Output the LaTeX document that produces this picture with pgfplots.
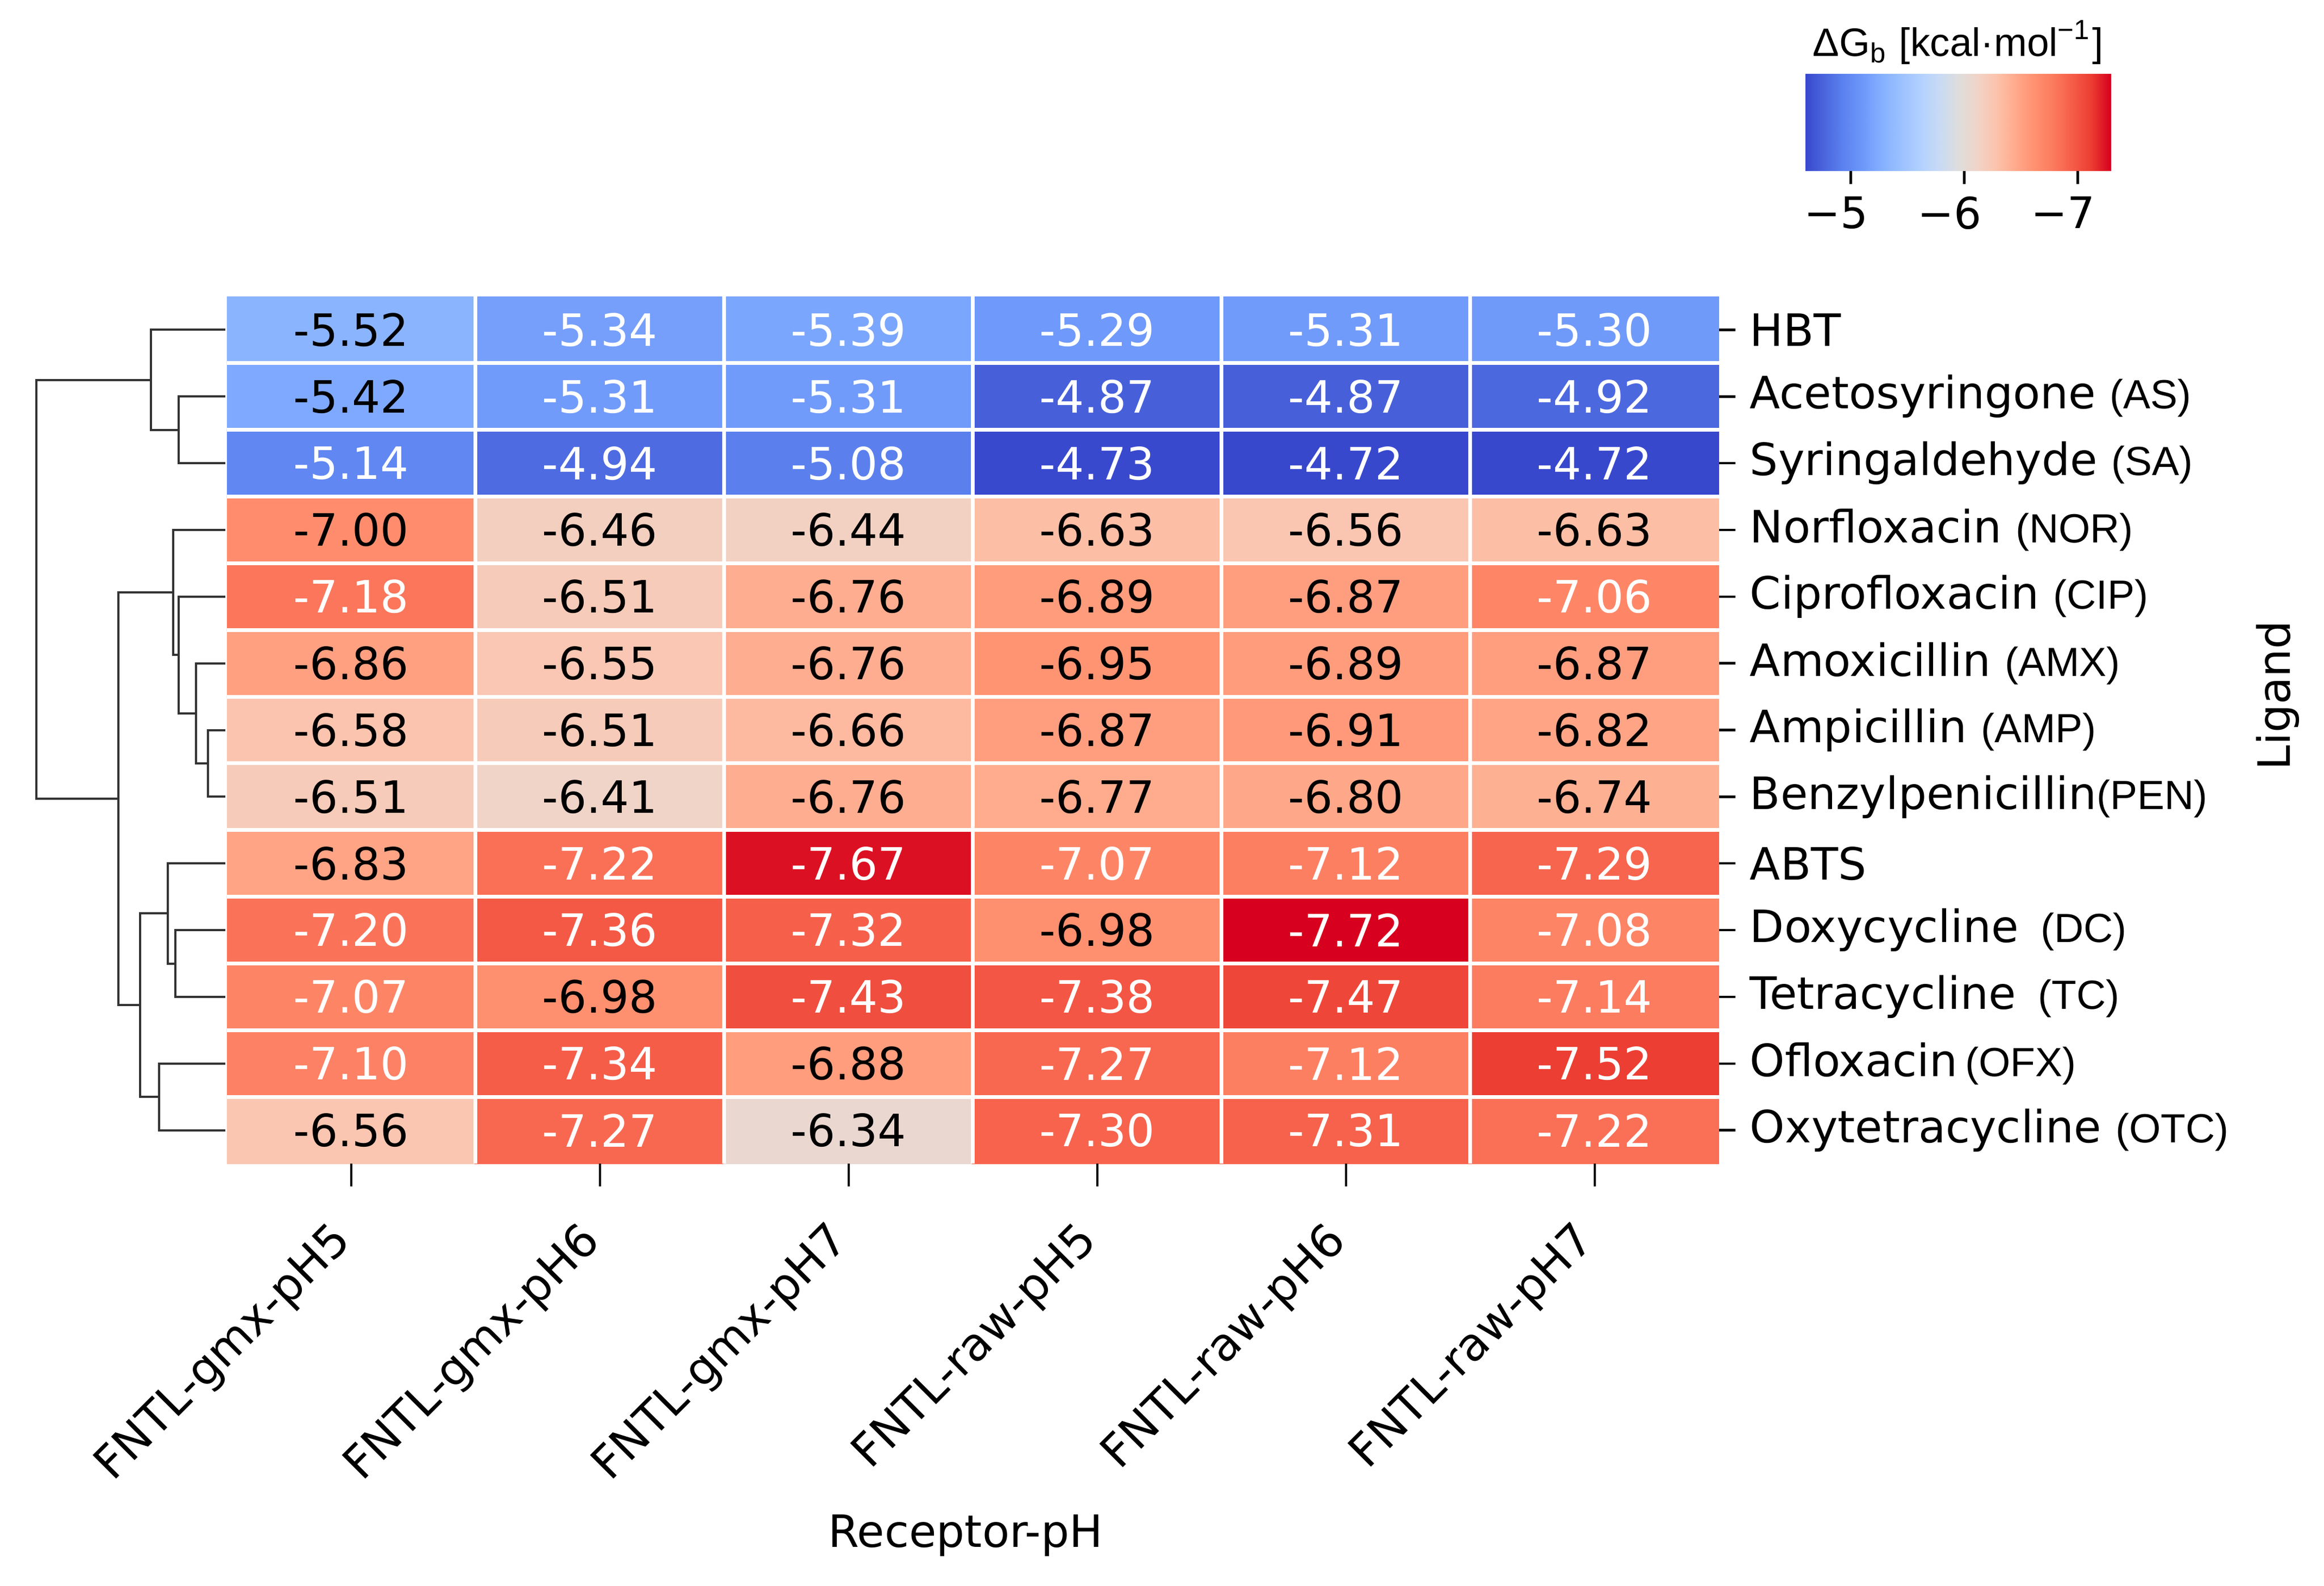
\documentclass[border=0pt]{standalone}
\usepackage{fontspec}
\setmainfont{DejaVu Sans}
\newfontfamily\arialfont{Liberation Sans}
\usepackage{pgfplots}
\pgfplotsset{compat=1.18}

% coolwarm, reversed (red = strongest binding)
\pgfplotsset{
  colormap={cwr}{
    rgb255=(215,0,30) rgb255=(235,60,50) rgb255=(245,92,72) rgb255=(252,122,94)
    rgb255=(255,145,112) rgb255=(255,170,140) rgb255=(252,195,172) rgb255=(240,212,200)
    rgb255=(221,221,221) rgb255=(200,218,245) rgb255=(178,208,255) rgb255=(155,193,255)
    rgb255=(133,176,255) rgb255=(110,152,250) rgb255=(92,130,240) rgb255=(75,102,222)
    rgb255=(56,72,205)
  },
}
\tikzset{dendro/.style={black!80, line width=0.4pt, mark=none}}
\newcommand{\lab}{\fontsize{8.2pt}{9.8pt}\selectfont}
\newcommand{\abbr}[1]{{\arialfont\fontsize{7.5pt}{9pt}\selectfont #1}}
\pgfplotsset{celltext/.style={mark=none, draw=none, point meta=explicit,
  nodes near coords={\pgfmathprintnumber[fixed,fixed zerofill,precision=2,assume math mode=true]{\pgfplotspointmeta}},
  nodes near coords style={anchor=center, font=\lab, inner sep=0pt}}}

% x = receptor column, y = ligand row, v = dG, w = 1 for white text
\pgfplotstableread{
x y v w
0 0 -5.52 0
1 0 -5.34 1
2 0 -5.39 1
3 0 -5.29 1
4 0 -5.31 1
5 0 -5.30 1
0 1 -5.42 0
1 1 -5.31 1
2 1 -5.31 1
3 1 -4.87 1
4 1 -4.87 1
5 1 -4.92 1
0 2 -5.14 1
1 2 -4.94 1
2 2 -5.08 1
3 2 -4.73 1
4 2 -4.72 1
5 2 -4.72 1
0 3 -7.00 0
1 3 -6.46 0
2 3 -6.44 0
3 3 -6.63 0
4 3 -6.56 0
5 3 -6.63 0
0 4 -7.18 1
1 4 -6.51 0
2 4 -6.76 0
3 4 -6.89 0
4 4 -6.87 0
5 4 -7.06 1
0 5 -6.86 0
1 5 -6.55 0
2 5 -6.76 0
3 5 -6.95 0
4 5 -6.89 0
5 5 -6.87 0
0 6 -6.58 0
1 6 -6.51 0
2 6 -6.66 0
3 6 -6.87 0
4 6 -6.91 0
5 6 -6.82 0
0 7 -6.51 0
1 7 -6.41 0
2 7 -6.76 0
3 7 -6.77 0
4 7 -6.80 0
5 7 -6.74 0
0 8 -6.83 0
1 8 -7.22 1
2 8 -7.67 1
3 8 -7.07 1
4 8 -7.12 1
5 8 -7.29 1
0 9 -7.20 1
1 9 -7.36 1
2 9 -7.32 1
3 9 -6.98 0
4 9 -7.72 1
5 9 -7.08 1
0 10 -7.07 1
1 10 -6.98 0
2 10 -7.43 1
3 10 -7.38 1
4 10 -7.47 1
5 10 -7.14 1
0 11 -7.10 1
1 11 -7.34 1
2 11 -6.88 0
3 11 -7.27 1
4 11 -7.12 1
5 11 -7.52 1
0 12 -6.56 0
1 12 -7.27 1
2 12 -6.34 0
3 12 -7.30 1
4 12 -7.31 1
5 12 -7.22 1
}\dgtable

\begin{document}
\begin{tikzpicture}
% page = reference frame, heatmap's top-left corner at the origin
\path[use as bounding box] (-41.8pt,54.6pt) rectangle (386.2pt,-237.4pt);

\begin{axis}[name=hm, at={(0pt,0pt)}, anchor=north west,
  scale only axis, width=274.8pt, height=159.7pt,
  xmin=-0.5, xmax=5.5, ymin=-0.5, ymax=12.5, y dir=reverse,
  axis line style={draw=none},
  colormap name=cwr, point meta min=-7.72, point meta max=-4.72,
  xtick={0,...,5},
  xticklabels={FNTL-gmx-pH5,FNTL-gmx-pH6,FNTL-gmx-pH7,FNTL-raw-pH5,FNTL-raw-pH6,FNTL-raw-pH7},
  ytick={0,...,12},
  yticklabels={HBT, Acetosyringone \abbr{(AS)}, Syringaldehyde \abbr{(SA)},
    Norfloxacin \abbr{(NOR)}, Ciprofloxacin \abbr{(CIP)}, Amoxicillin \abbr{(AMX)},
    Ampicillin \abbr{(AMP)}, Benzylpenicillin\abbr{(PEN)}, ABTS,
    Doxycycline\enspace\abbr{(DC)}, Tetracycline\enspace\abbr{(TC)},
    Ofloxacin\,\abbr{(OFX)}, Oxytetracycline \abbr{(OTC)}},
  xtick pos=lower, ytick pos=right, yticklabel pos=right,
  tick align=outside, major tick length=3pt,
  tick style={black, line width=0.45pt},
  xtick style={/pgfplots/major tick length=4.2pt},
  minor xtick={0.5,1.5,...,4.5}, minor ytick={0.5,1.5,...,11.5},
  minor tick length=0pt,
  xminorgrids=true, yminorgrids=true,
  minor grid style={white, line width=0.7pt},
  axis on top,
  tick label style={font=\lab},
  xticklabel style={font=\fontsize{8.4pt}{10pt}\selectfont, rotate=45, anchor=north east,
    inner sep=1pt, xshift=-6.8pt, yshift=-1pt},
  yticklabel style={anchor=west, inner sep=1pt, xshift=1.5pt},
  every axis x label/.style={at={(axis description cs:0.495,0)}, anchor=center, yshift=-68.5pt, font=\lab},
  every axis y label/.style={at={(axis description cs:1,0.54)}, anchor=center, xshift=102.9pt, rotate=90, font=\lab},
  xlabel={Receptor-pH}, ylabel={Ligand},
]
\addplot[matrix plot*, mesh/cols=6, point meta=explicit] table[x=x, y=y, meta=v] {\dgtable};
\addplot[celltext, restrict expr to domain={\thisrow{w}}{-0.5:0.5},
  nodes near coords style={text=black}] table[x=x, y=y, meta=v] {\dgtable};
\addplot[celltext, restrict expr to domain={\thisrow{w}}{0.5:1.5},
  nodes near coords style={text=white}] table[x=x, y=y, meta=v] {\dgtable};
\end{axis}

% row dendrogram, x in pixels of the reference
\begin{axis}[at={(hm.north west)}, anchor=north east,
  scale only axis, width=41.8pt, height=159.7pt,
  xmin=0, xmax=418, ymin=-0.5, ymax=12.5, y dir=reverse,
  hide axis, clip=false]
\addplot[dendro] coordinates {(415,1) (329,1) (329,2) (415,2)};
\addplot[dendro] coordinates {(415,0) (278,0) (278,1.5) (329,1.5)};
\addplot[dendro] coordinates {(415,6) (383,6) (383,7) (415,7)};
\addplot[dendro] coordinates {(415,5) (361,5) (361,6.5) (383,6.5)};
\addplot[dendro] coordinates {(415,4) (329,4) (329,5.75) (361,5.75)};
\addplot[dendro] coordinates {(415,3) (319,3) (319,4.875) (329,4.875)};
\addplot[dendro] coordinates {(415,9) (323,9) (323,10) (415,10)};
\addplot[dendro] coordinates {(415,8) (309,8) (309,9.5) (323,9.5)};
\addplot[dendro] coordinates {(415,11) (293,11) (293,12) (415,12)};
\addplot[dendro] coordinates {(309,8.75) (258,8.75) (258,11.5) (293,11.5)};
\addplot[dendro] coordinates {(319,3.9375) (218,3.9375) (218,10.125) (258,10.125)};
\addplot[dendro] coordinates {(278,0.75) (67,0.75) (67,7.03125) (218,7.03125)};
\end{axis}

% colour bar
\begin{axis}[at={(290.7pt,41.0pt)}, anchor=north west,
  scale only axis, width=56.2pt, height=17.8pt,
  xmin=-7.29, xmax=-4.60, x dir=reverse, ymin=0, ymax=1,
  axis line style={draw=none}, ytick=\empty,
  xtick={-7,-6,-5}, xticklabels={−7,−6,−5},
  xtick pos=lower, tick align=outside, major tick length=2.5pt,
  tick style={black, line width=0.45pt},
  tick label style={font=\fontsize{8pt}{9.6pt}\selectfont, inner sep=1pt, xshift=-2.7pt, yshift=-1.1pt},
  colormap name=cwr, point meta min=-7.29, point meta max=-4.60,
  every axis title shift=0pt,
  title={\arialfont\fontsize{7.3pt}{8.8pt}\selectfont ΔG\textsubscript{b} [kcal·mol\textsuperscript{−1}]},
  title style={at={(0.5,1)}, anchor=base, yshift=3.3pt, inner sep=0pt},
]
\addplot[surf, shader=interp, point meta=x] coordinates {
(-7.29,0) (-4.60,0)

(-7.29,1) (-4.60,1)
};
\end{axis}
\end{tikzpicture}
\end{document}
